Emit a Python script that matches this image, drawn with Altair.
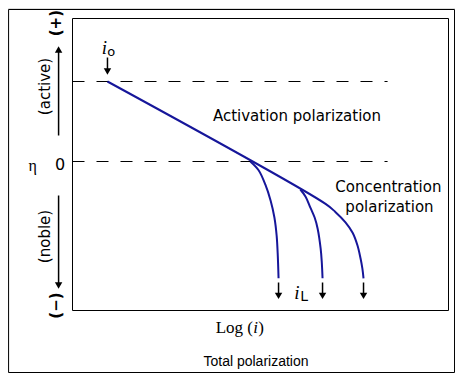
import altair as alt
import pandas as pd

# ---------------- data (units: x = log(i), y = eta) ----------------
main_x = [0.93, 6.73, 6.99, 7.26, 7.45, 7.58, 7.66, 7.71, 7.74]
main_y = [1.00, -0.53, -0.63, -0.76, -0.89, -1.05, -1.21, -1.34, -1.46]
b1_x = [4.73, 4.95, 5.13, 5.27, 5.37, 5.43, 5.46, 5.48]
b1_y = [0.00, -0.11, -0.29, -0.49, -0.70, -0.93, -1.18, -1.46]
b2_x = [6.06, 6.20, 6.33, 6.44, 6.52, 6.60, 6.63, 6.65]
b2_y = [-0.35, -0.44, -0.58, -0.70, -0.84, -1.09, -1.26, -1.46]

dash_levels = [1.0, 0.0]
dash_end = 8.38
limit_x = [5.48, 6.65, 7.74]
i0_x = 0.93

# ---------------- layout ----------------
W, H = 447, 365
PX_X, PX_Y = 37.6, 80.0
xmin = (8 - 72.5) / PX_X
xmax = xmin + W / PX_X
ymax = (161.5 - 8) / PX_Y
ymin = ymax - H / PX_Y

xs = alt.Scale(domain=[xmin, xmax], nice=False, zero=False)
ys = alt.Scale(domain=[ymin, ymax], nice=False, zero=False)
X = lambda f="x": alt.X(f"{f}:Q", scale=xs, axis=None)
Y = lambda f="y": alt.Y(f"{f}:Q", scale=ys, axis=None)

rows = []
for name, xv, yv in [("main", main_x, main_y), ("b1", b1_x, b1_y), ("b2", b2_x, b2_y)]:
    for k, (a, b) in enumerate(zip(xv, yv)):
        rows.append({"s": name, "x": a, "y": b, "o": k})
curves = pd.DataFrame(rows)

boxes = pd.DataFrame({"x": [-1.70, 0.0], "x2": [10.16, 10.0],
                      "y": [1.90, 1.7875], "y2": [-2.6375, -1.8625]})
dashes = pd.DataFrame({"x": [0.0] * len(dash_levels), "x2": [dash_end] * len(dash_levels),
                       "y": dash_levels})

# arrows: shaft from y to y2, head at yh
arrows = pd.DataFrame({
    "x": [i0_x] + limit_x + [-0.37, -0.37],
    "y": [1.30] + [-1.5125] * 3 + [0.325, -0.425],
    "y2": [1.15] + [-1.66] * 3 + [1.39, -1.52],
    "yh": [1.125] + [-1.68] * 3 + [1.40, -1.55],
    "shape": ["triangle-down"] * 4 + ["triangle-up", "triangle-down"],
})

base = alt.Chart(curves)

box_layer = alt.Chart(boxes).mark_rect(fillOpacity=0, stroke="black", strokeWidth=1).encode(
    x=X(), x2="x2:Q", y=Y(), y2="y2:Q")
dash_layer = alt.Chart(dashes).mark_rule(color="black", strokeWidth=1, strokeDash=[12, 12]).encode(
    x=X(), x2="x2:Q", y=Y())
curve_layer = base.mark_line(color="#16169a", strokeWidth=2, interpolate="catmull-rom").encode(
    x=X(), y=Y(), detail="s:N", order="o:Q")
shaft_layer = alt.Chart(arrows).mark_rule(color="black", strokeWidth=1.5).encode(
    x=X(), y=Y(), y2="y2:Q")
head_layer = alt.Chart(arrows).mark_point(filled=True, color="black", size=55, opacity=1).encode(
    x=X(), y=Y("yh"), shape=alt.Shape("shape:N", scale=None))


def label(text, x, y, size=15, font="DejaVu Sans", style="normal", angle=0,
          align="center", baseline="alphabetic", weight="normal"):
    df = pd.DataFrame({"x": [x], "y": [y], "t": [text]})
    kw = dict(fontSize=size, font=font, fontStyle=style, align=align,
              baseline=baseline, color="black", fontWeight=weight)
    if angle:
        kw["angle"] = angle
    return alt.Chart(df).mark_text(**kw).encode(x=X(), y=Y(), text="t:N")


labels = [
    label("i", 0.85, 1.35, size=19, font="Liberation Serif", style="italic"),
    label("o", 1.03, 1.325, size=13),
    label("Activation polarization", 5.97, 0.5125),
    label("Concentration", 8.40, -0.375),
    label("polarization", 8.43, -0.625),
    label("i", 5.97, -1.7125, size=19, font="Liberation Serif", style="italic"),
    label("L", 6.16, -1.7375, size=14),
    label("Log (", 4.80, -2.1375, size=17, font="Liberation Serif", align="right"),
    label("i", 4.87, -2.1375, size=17, font="Liberation Serif", style="italic"),
    label(")", 4.94, -2.1375, size=17, font="Liberation Serif", align="left"),
    label("Total polarization", 4.88, -2.55, size=14, font="Liberation Sans"),
    label("η", -1.06, -0.1125, size=16, font="Liberation Serif"),
    label("0", -0.33, -0.044, size=16, baseline="middle"),
    label("(active)", -0.72, 0.9375, angle=270, baseline="middle"),
    label("(noble)", -0.72, -0.9375, angle=270, baseline="middle"),
    label("(+)", -0.45, 1.73, size=15, angle=270, baseline="middle", weight="bold"),
    label("(−)", -0.43, -1.80, size=15, angle=270, baseline="middle", weight="bold"),
]

chart = alt.layer(box_layer, dash_layer, curve_layer, shaft_layer, head_layer, *labels).properties(
    width=W, height=H, autosize=alt.AutoSizeParams(type="none"), padding=0
).configure_view(stroke=None).configure(background="white")

chart.save("out.html", embed_options={"renderer": "svg", "actions": False})
